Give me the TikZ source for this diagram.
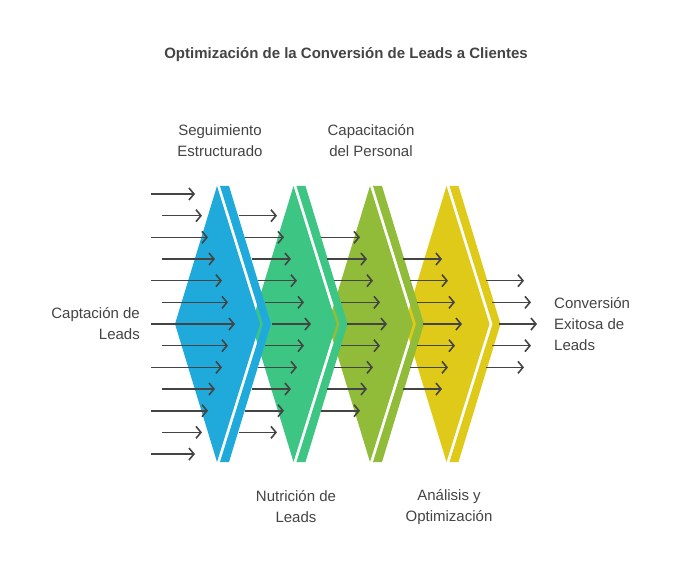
\documentclass[tikz,border=0pt]{standalone}
\usepackage{fontspec}
\setmainfont{Liberation Sans}
\usetikzlibrary{arrows.meta}
\definecolor{cBlue}{HTML}{1FAADB}
\definecolor{cGreen}{HTML}{3DC583}
\definecolor{cOlive}{HTML}{90BC3A}
\definecolor{cYellow}{HTML}{DFCA19}
\definecolor{txt}{HTML}{444444}
\begin{document}
\begin{tikzpicture}[x=1pt,y=-1pt,
  arr/.style={draw=txt,line width=1.6pt,-{Straight Barb[length=5pt,width=12pt,line width=1.6pt]}},
  lbl/.style={text=txt,font=\fontsize{15}{21}\selectfont,align=center,inner sep=0pt}]
\useasboundingbox[fill=white] (0,0) rectangle (683,575);
\newcommand{\stage}[2]{%
  \fill[#2] ({175+#1},324) -- ({217+#1},186) -- ({260+#1},324) -- ({217+#1},462) -- cycle;
  \fill[#2] ({220+#1},186) -- ({229+#1},186) -- ({271+#1},324) -- ({229+#1},462) -- ({220+#1},462) -- ({263+#1},324) -- cycle;}
\stage{229.5}{cYellow}
\stage{153}{cOlive}
\stage{76.5}{cGreen}
\stage{0}{cBlue}
% blue column
\foreach \i/\s/\e in {0/151/195,1/162/202,2/151/208,3/162/215,4/151/222,5/162/228,6/151/235,7/162/228,8/151/222,9/162/215,10/151/208,11/162/202,12/151/195}
  \draw[arr] (\s,{194+21.67*\i}) -- (\e,{194+21.67*\i});
\foreach \i/\s/\e in {1/239/277,2/245/284,3/252/291,4/258/297,5/265/304,6/272/311,7/265/304,8/258/297,9/252/291,10/245/284,11/239/277}
  \draw[arr] (\s,{194+21.67*\i}) -- (\e,{194+21.67*\i});
\foreach \i/\s/\e in {2/321/360,3/327/367,4/334/373,5/341/380,6/347/387,7/341/380,8/334/373,9/327/367,10/321/360}
  \draw[arr] (\s,{194+21.67*\i}) -- (\e,{194+21.67*\i});
\foreach \i/\s/\e in {3/403/442,4/410/448,5/417/455,6/423/462,7/417/455,8/410/448,9/403/442}
  \draw[arr] (\s,{194+21.67*\i}) -- (\e,{194+21.67*\i});
\foreach \i/\s/\e in {4/486/524,5/492/531,6/499/537,7/492/531,8/486/524}
  \draw[arr] (\s,{194+21.67*\i}) -- (\e,{194+21.67*\i});
\node[text=txt,font=\bfseries\fontsize{15}{18}\selectfont] (title) at (346,55) {Optimización de la Conversión de Leads a Clientes};
\node[lbl] (l1) at (220,141) {Seguimiento\\Estructurado};
\node[lbl] (l2) at (371,141) {Capacitación\\del Personal};
\node[lbl,align=right,anchor=east] (l0) at (140,324) {Captación de\\Leads};
\node[lbl] (l3) at (296,507) {Nutrición de\\Leads};
\node[lbl] (l4) at (449,507) {Análisis y\\Optimización};
\node[lbl,align=left,anchor=west] (l5) at (554,324) {Conversión\\Exitosa de\\Leads};
\end{tikzpicture}
\end{document}
